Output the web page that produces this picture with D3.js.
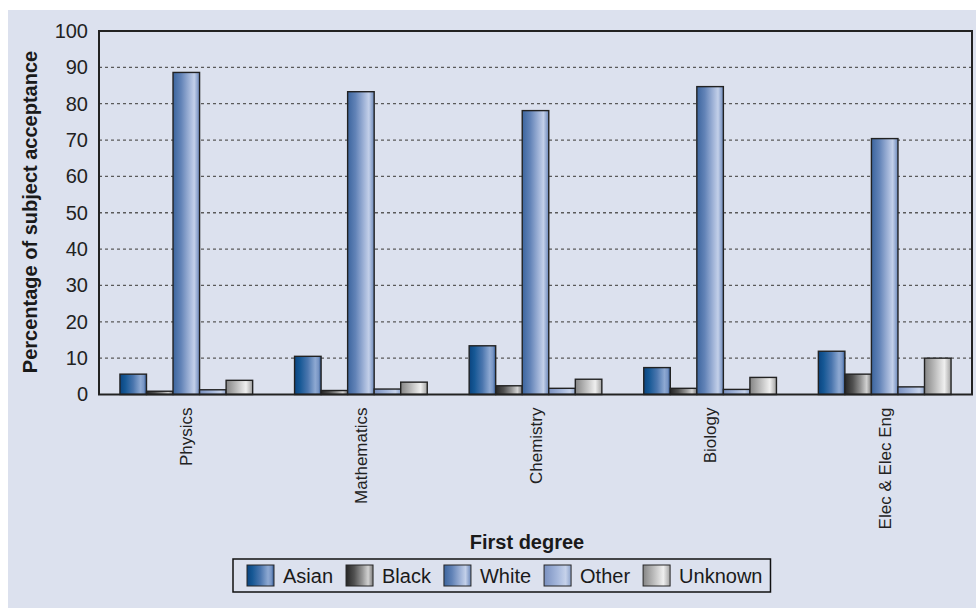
<!DOCTYPE html>
<html>
<head>
<meta charset="utf-8">
<script src="https://cdn.jsdelivr.net/npm/d3@7"></script>
<style>
  html, body { margin: 0; padding: 0; background: #ffffff; }
  svg { display: block; font-family: "Liberation Sans", Arial, sans-serif; }
</style>
</head>
<body>
<svg id="chart" width="976" height="608"></svg>
<script>
// ---- data ----
const categories = ["Physics", "Mathematics", "Chemistry", "Biology", "Elec & Elec Eng"];
const seriesNames = ["Asian", "Black", "White", "Other", "Unknown"];
const asian   = [5.6, 10.5, 13.4, 7.4, 11.9];
const black   = [0.9, 1.1, 2.4, 1.7, 5.6];
const white   = [88.6, 83.3, 78.1, 84.7, 70.4];
const other   = [1.3, 1.5, 1.7, 1.4, 2.1];
const unknown = [3.9, 3.4, 4.2, 4.7, 10.0];
const yTicks  = [0, 10, 20, 30, 40, 50, 60, 70, 80, 90, 100];
const yTitle = "Percentage of subject acceptance";
const xTitle = "First degree";

const seriesValues = [asian, black, white, other, unknown];

// ---- styles ----
const gradStops = {
  Asian:   [[0, "#0a4480"], [0.2, "#165895"], [0.5, "#4b76ae"], [0.78, "#8ea9d2"], [0.9, "#7895c4"], [1, "#2c5590"]],
  Black:   [[0, "#262626"], [0.3, "#505050"], [0.6, "#959595"], [0.82, "#d2d2d2"], [1, "#7a7a7a"]],
  White:   [[0, "#3c659e"], [0.3, "#6283b7"], [0.6, "#9db1d6"], [0.8, "#c3d0e9"], [1, "#6a87ba"]],
  Other:   [[0, "#7990c0"], [0.5, "#a6b8dc"], [0.8, "#c6d2ea"], [1, "#8ea4cc"]],
  Unknown: [[0, "#858585"], [0.4, "#bdbdbd"], [0.75, "#efefef"], [1, "#a2a2a2"]]
};

const svg = d3.select("#chart");
const W = 976, H = 608;
const panel = { x: 8, y: 10 };
const plot = { left: 99, right: 972, top: 31, bottom: 394.5 };

// background panel
svg.append("rect").attr("x", panel.x).attr("y", panel.y)
  .attr("width", W - panel.x).attr("height", H - panel.y).attr("fill", "#dce1ee");

// gradients
const defs = svg.append("defs");
seriesNames.forEach((s, i) => {
  const g = defs.append("linearGradient").attr("id", "grad" + i)
    .attr("x1", "0%").attr("x2", "100%").attr("y1", "0%").attr("y2", "0%");
  gradStops[s].forEach(st => g.append("stop").attr("offset", st[0]).attr("stop-color", st[1]));
});

// scales
const x0 = d3.scaleBand().domain(categories).range([plot.left, plot.right])
  .paddingInner(0.24).paddingOuter(0.12);
const x1 = d3.scaleBand().domain(seriesNames).range([0, x0.bandwidth()]).padding(0);
const y = d3.scaleLinear().domain([0, 100]).range([plot.bottom, plot.top]);

// gridlines
svg.append("g").selectAll("line").data(yTicks.filter(t => t > 0 && t < 100)).join("line")
  .attr("x1", plot.left).attr("x2", plot.right)
  .attr("y1", d => y(d)).attr("y2", d => y(d))
  .attr("stroke", "#5a5a5a").attr("stroke-width", 1.3).attr("stroke-dasharray", "3,3");

// y axis labels
const yAxis = d3.axisLeft(y).tickValues(yTicks).tickSize(0).tickPadding(11);
const yg = svg.append("g").attr("transform", `translate(${plot.left},0)`).call(yAxis);
yg.select(".domain").remove();
yg.selectAll("text").attr("font-size", 20).attr("fill", "#222")
  .attr("font-family", "'Liberation Sans', Arial, sans-serif");

// bars
const groups = svg.append("g").selectAll("g").data(categories).join("g")
  .attr("transform", d => `translate(${x0(d)},0)`);
groups.selectAll("rect")
  .data((c, ci) => seriesNames.map((s, si) => ({ s, si, v: seriesValues[si][ci] })))
  .join("rect")
  .attr("x", d => x1(d.s))
  .attr("width", x1.bandwidth())
  .attr("y", d => y(d.v))
  .attr("height", d => y(0) - y(d.v))
  .attr("fill", d => `url(#grad${d.si})`)
  .attr("stroke", "#222").attr("stroke-width", 1.4);

// plot frame
svg.append("rect").attr("x", plot.left).attr("y", y(100))
  .attr("width", plot.right - plot.left).attr("height", y(0) - y(100))
  .attr("fill", "none").attr("stroke", "#222").attr("stroke-width", 2);

// category labels (rotated)
const xAxis = d3.axisBottom(x0).tickSize(0).tickPadding(0);
const xg = svg.append("g").attr("transform", `translate(0,${plot.bottom})`).call(xAxis);
xg.select(".domain").remove();
xg.selectAll("text")
  .attr("font-size", 17).attr("fill", "#222")
  .attr("font-family", "'Liberation Sans', Arial, sans-serif")
  .attr("text-anchor", "end")
  .attr("transform", "translate(6,13) rotate(-90)")
  .attr("x", 0).attr("y", 0).attr("dy", 0);

// axis titles
svg.append("text").attr("transform", `translate(37,212) rotate(-90)`)
  .attr("text-anchor", "middle").attr("font-size", 20).attr("font-weight", "bold")
  .attr("fill", "#1a1a1a").text(yTitle);
svg.append("text").attr("x", 527).attr("y", 549)
  .attr("text-anchor", "middle").attr("font-size", 20).attr("font-weight", "bold")
  .attr("fill", "#1a1a1a").text(xTitle);

// legend
const leg = { x: 233, y: 559, h: 33, pad: 14, sw: 27, swH: 21, gapText: 9, gapItem: 13 };
const legBox = svg.append("rect").attr("x", leg.x).attr("y", leg.y).attr("height", leg.h)
  .attr("fill", "#dce1ee").attr("stroke", "#111").attr("stroke-width", 1.5);
let cx = leg.x + leg.pad;
seriesNames.forEach((s, i) => {
  svg.append("rect").attr("x", cx).attr("y", leg.y + (leg.h - leg.swH) / 2)
    .attr("width", leg.sw).attr("height", leg.swH)
    .attr("fill", `url(#grad${i})`).attr("stroke", "#262626").attr("stroke-width", 1);
  cx += leg.sw + leg.gapText;
  const t = svg.append("text").attr("x", cx).attr("y", leg.y + leg.h / 2 + 7.5)
    .attr("font-size", 20).attr("fill", "#1a1a1a").text(s);
  cx += t.node().getComputedTextLength() + (i < seriesNames.length - 1 ? leg.gapItem : 0);
});
legBox.attr("width", cx + 8 - leg.x);
</script>
</body>
</html>
